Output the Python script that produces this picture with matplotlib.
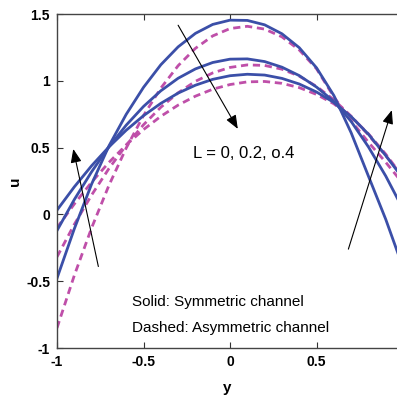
import matplotlib
matplotlib.use('Agg')
import matplotlib.pyplot as plt

plt.rcParams['font.family'] = ['Liberation Sans', 'DejaVu Sans']

# y positions across the channel
y = [-1.0, -0.9, -0.8, -0.7, -0.6, -0.5, -0.4, -0.3, -0.2, -0.1, 0.0,
     0.1, 0.2, 0.3, 0.4, 0.5, 0.6, 0.7, 0.8, 0.9, 1.0]

# symmetric channel (solid), L = 0, 0.2, 0.4
u_sym_0 = [-0.478, -0.108, 0.227, 0.512, 0.749, 0.951, 1.120, 1.254, 1.355, 1.422, 1.454,
           1.452, 1.419, 1.352, 1.248, 1.097, 0.890, 0.611, 0.286, -0.037, -0.398]
u_sym_02 = [-0.121, 0.111, 0.319, 0.505, 0.668, 0.808, 0.925, 1.019, 1.089, 1.137, 1.162,
            1.164, 1.144, 1.102, 1.039, 0.953, 0.846, 0.696, 0.505, 0.287, 0.039]
u_sym_04 = [0.032, 0.206, 0.364, 0.505, 0.630, 0.739, 0.831, 0.908, 0.967, 1.011, 1.038,
            1.049, 1.043, 1.018, 0.976, 0.916, 0.838, 0.732, 0.600, 0.440, 0.268]

# asymmetric channel (dashed), L = 0, 0.2, 0.4
u_asym_0 = [-0.850, -0.457, -0.101, 0.217, 0.497, 0.740, 0.945, 1.113, 1.243, 1.336, 1.391,
            1.408, 1.387, 1.329, 1.231, 1.090, 0.880, 0.700, 0.540, 0.390, 0.230]
u_asym_02 = [-0.318, -0.075, 0.145, 0.343, 0.518, 0.671, 0.802, 0.910, 0.996, 1.059, 1.100,
             1.119, 1.115, 1.087, 1.035, 0.958, 0.858, 0.735, 0.595, 0.440, 0.280]
u_asym_04 = [-0.100, 0.078, 0.241, 0.389, 0.520, 0.635, 0.734, 0.818, 0.885, 0.937, 0.972,
             0.992, 0.995, 0.981, 0.949, 0.898, 0.828, 0.729, 0.603, 0.451, 0.278]

# arrows (tail -> head)
arrow_top = [(-0.30, 1.416), (0.045, 0.64)]
arrow_left = [(-0.761, -0.39), (-0.906, 0.49)]
arrow_right = [(0.684, -0.26), (0.935, 0.78)]

xticks = [-1, -0.5, 0, 0.5]
xticklabels = ['-1', '-0.5', '0', '0.5']
yticks = [-1, -0.5, 0, 0.5, 1, 1.5]
yticklabels = ['-1', '-0.5', '0', '0.5', '1', '1.5']

blue = '#3b4fa8'
pink = '#bf4fa9'

fig = plt.figure(figsize=(3.97, 3.98), dpi=100)
ax = fig.add_axes([57/397, 50/398, 340/397, 334/398])

for u in [u_asym_0, u_asym_02, u_asym_04]:
    ax.plot(y, u, color=pink, lw=2.0, dashes=(2.6, 1.7))
for u in [u_sym_0, u_sym_02, u_sym_04]:
    ax.plot(y, u, color=blue, lw=2.0)

for tail, head in [arrow_top, arrow_left, arrow_right]:
    ax.annotate('', xy=head, xytext=tail,
                arrowprops=dict(arrowstyle='-|>,head_length=0.55,head_width=0.22',
                                color='k', lw=0.8, mutation_scale=15,
                                shrinkA=0, shrinkB=0))

ax.text(-0.214, 0.457, 'L = 0, 0.2, o.4', fontsize=12, va='center', ha='left')
ax.text(-0.568, -0.652, 'Solid: Symmetric channel', fontsize=11, va='center', ha='left')
ax.text(-0.568, -0.854, 'Dashed: Asymmetric channel', fontsize=11, va='center', ha='left')

ax.set_xlim(-1, 0.965)
ax.set_ylim(-1, 1.5)
ax.set_xticks(xticks)
ax.set_xticklabels(xticklabels, fontweight='bold', fontsize=10)
ax.set_yticks(yticks)
ax.set_yticklabels(yticklabels, fontweight='bold', fontsize=10)
ax.tick_params(direction='in', top=True, length=4, width=0.8, colors='#333333', pad=5)
for lab in ax.get_xticklabels() + ax.get_yticklabels():
    lab.set_color('k')
ax.spines['right'].set_visible(False)
for s in ['left', 'bottom', 'top']:
    ax.spines[s].set_color('#444444')
    ax.spines[s].set_linewidth(1.0)

ax.set_xlabel('y', fontweight='bold', fontsize=11, labelpad=9)
ax.set_ylabel('u', fontweight='bold', fontsize=11, labelpad=3)

fig.savefig('out.png', dpi=100)
